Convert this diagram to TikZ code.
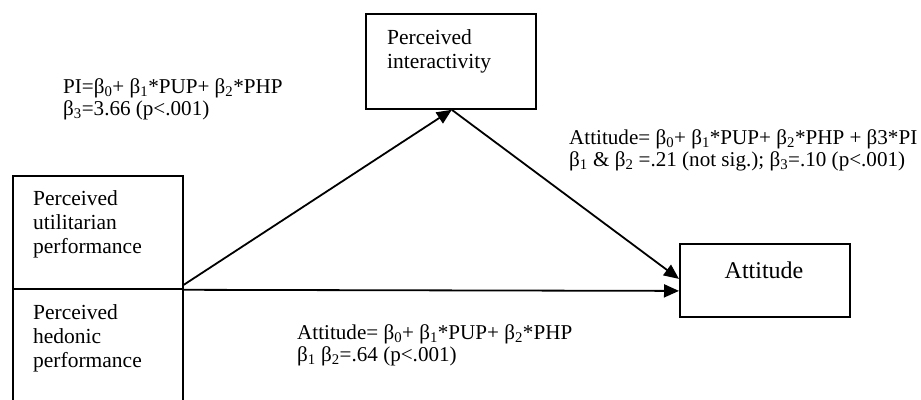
\documentclass[tikz,border=0pt]{standalone}
\usepackage{fontspec}
\setmainfont{Liberation Serif}
\usetikzlibrary{arrows.meta}
\begin{document}
\begin{tikzpicture}[x=1pt,y=-1pt,
  box/.style={draw, line width=1.8pt, rectangle, inner sep=0pt, anchor=north west},
  lbl/.style={inner sep=0pt, anchor=base west, align=left, font=\fontsize{21.5}{23.8}\selectfont},
  eqn/.style={inner sep=0pt, anchor=base west, align=left, font=\fontsize{21.1}{22}\selectfont},
  conn/.style={line width=1.8pt, -{Triangle[length=15pt,width=13pt]}}]
\useasboundingbox (0,0) rectangle (921,399);
% boxes
\node[box, minimum width=170pt, minimum height=95pt] (pi) at (365,13) {};
\node[box, minimum width=170pt, minimum height=113pt] (pup) at (12,175) {};
\node[box, minimum width=170pt, minimum height=140pt] (php) at (12,288) {};
\node[box, minimum width=170pt, minimum height=73pt] (att) at (679,243) {};
% box texts (anchor = baseline of last line)
\node[lbl] (pit) at (387,68) {Perceived\\interactivity};
\node[lbl] (pupt) at (33,253) {Perceived\\utilitarian\\performance};
\node[lbl] (phpt) at (33,367) {Perceived\\hedonic\\performance};
\node[inner sep=0pt, anchor=base, font=\fontsize{24}{26}\selectfont] (attt) at (764,278) {Attitude};
% equations
\node[eqn] (eq1) at (63,115) {PI=β\textsubscript{0}+ β\textsubscript{1}*PUP+ β\textsubscript{2}*PHP\\β\textsubscript{3}=3.66 (p<.001)};
\node[eqn] (eq2) at (569,166) {Attitude= β\textsubscript{0}+ β\textsubscript{1}*PUP+ β\textsubscript{2}*PHP + β3*PI\\β\textsubscript{1} \& β\textsubscript{2} =.21 (not sig.); β\textsubscript{3}=.10 (p<.001)};
\node[eqn] (eq3) at (297,361) {Attitude= β\textsubscript{0}+ β\textsubscript{1}*PUP+ β\textsubscript{2}*PHP\\β\textsubscript{1} β\textsubscript{2}=.64 (p<.001)};
% connectors
\coordinate (pib) at ([xshift=-85pt]pi.south east);
\draw[conn] ([yshift=5pt]pup.south east) -- (pib);
\draw[conn] (pib) -- ([yshift=1.5pt]att.west);
\draw[conn] (pup.south east) -- ([yshift=-10.5pt]att.west);
\end{tikzpicture}
\end{document}
